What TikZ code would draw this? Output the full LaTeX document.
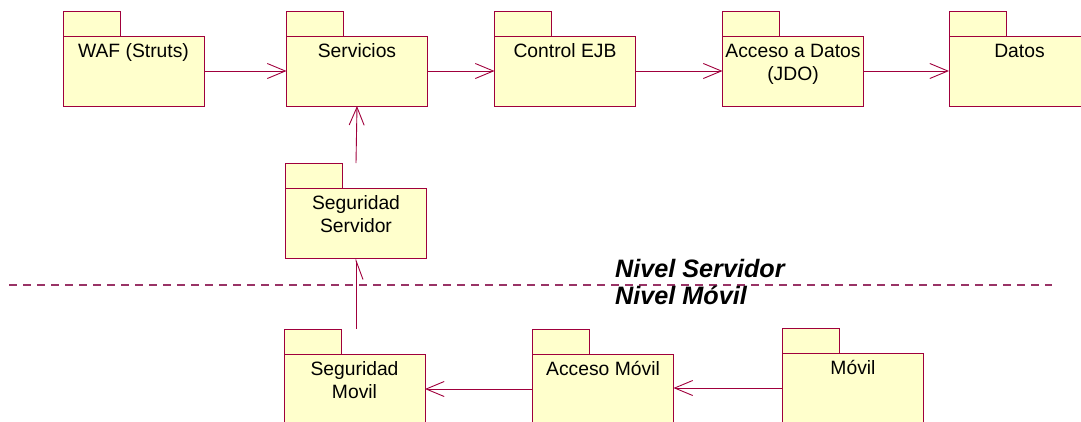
\documentclass[tikz,border=0pt]{standalone}
\usepackage{fontspec}
\setmainfont{Liberation Sans}
\usetikzlibrary{arrows.meta}
\definecolor{pkgline}{RGB}{160,0,60}
\definecolor{pkgfill}{RGB}{255,255,204}
\definecolor{lvl}{RGB}{153,51,102}
\begin{document}
\begin{tikzpicture}[x=1pt,y=-1pt,
  pkg/.style={draw=pkgline, fill=pkgfill, line width=1pt, minimum width=141pt, minimum height=70pt, inner sep=0pt, outer sep=0pt},
  tabbox/.style={draw=pkgline, fill=pkgfill, line width=1pt, minimum width=57pt, minimum height=25pt, inner sep=0pt, outer sep=0pt, anchor=south west},
  lbl/.style={font=\fontsize{19.3}{23}\selectfont, align=center, anchor=base, inner sep=0pt},
  lvltxt/.style={font=\fontsize{25.2}{28}\selectfont\bfseries\itshape, anchor=base west, inner sep=0pt},
  conn/.style={draw=pkgline, line width=0.9pt, -{Straight Barb[length=18pt,width=15pt]}},
  halfconn/.style={draw=pkgline, line width=0.9pt, -{Straight Barb[harpoon,swap,length=19pt,width=14pt]}},
  level/.style={draw=lvl, line width=2pt, dash pattern=on 8pt off 6pt}
]
\useasboundingbox (0,0) rectangle (1081,421);
\clip (0,0) rectangle (1081,421);

% packages: body, tab, label (#4 = baseline of last line below body top)
\newcommand{\pkgnode}[4]{%
  \node[pkg] (#1) at (#2) {};
  \node[tabbox] (#1-tab) at (#1.north west) {};
  \node[lbl] (#1-lbl) at ([yshift=-#4pt]#1.north) {#3};
}
\pkgnode{waf}{133.5,71}{WAF (Struts)}{21}
\pkgnode{serv}{357,71}{Servicios}{21}
\pkgnode{ejb}{565,71}{Control EJB}{21}
\pkgnode{jdo}{793,71}{Acceso a Datos\\(JDO)}{44}
\pkgnode{datos}{1019.5,71}{Datos}{21}
\pkgnode{sss}{356,223}{Seguridad\\Servidor}{44}
\pkgnode{ssm}{354.5,389}{Seguridad\\Movil}{44}
\pkgnode{am}{603,389}{Acceso Móvil}{21}
\pkgnode{movil}{853,388}{Móvil}{21}

\coordinate (sss-top) at (sss.north |- sss-tab.north);
\coordinate (ssm-top) at (sss.south |- ssm-tab.north);

% connectors
\draw[conn] (waf.east) -- (serv.west);
\draw[conn] (serv.east) -- (ejb.west);
\draw[conn] (ejb.east) -- (jdo.west);
\draw[conn] (jdo.east) -- (datos.west);
\draw[conn] (sss-top) -- (serv.south);
\draw[halfconn] (ssm-top) -- (sss.south);
\draw[conn] (am.west) -- (ssm.east);
\draw[conn] (movil.west) -- (movil.west -| am.east);

% level separator
\coordinate (lvl-l) at (9,285);
\coordinate (lvl-r) at (1052,285);
\draw[level] (lvl-l) -- (lvl-r);
\node[lvltxt] (nserv) at (615,277) {Nivel Servidor};
\node[lvltxt] (nmov) at (615,304) {Nivel Móvil};
\end{tikzpicture}
\end{document}
